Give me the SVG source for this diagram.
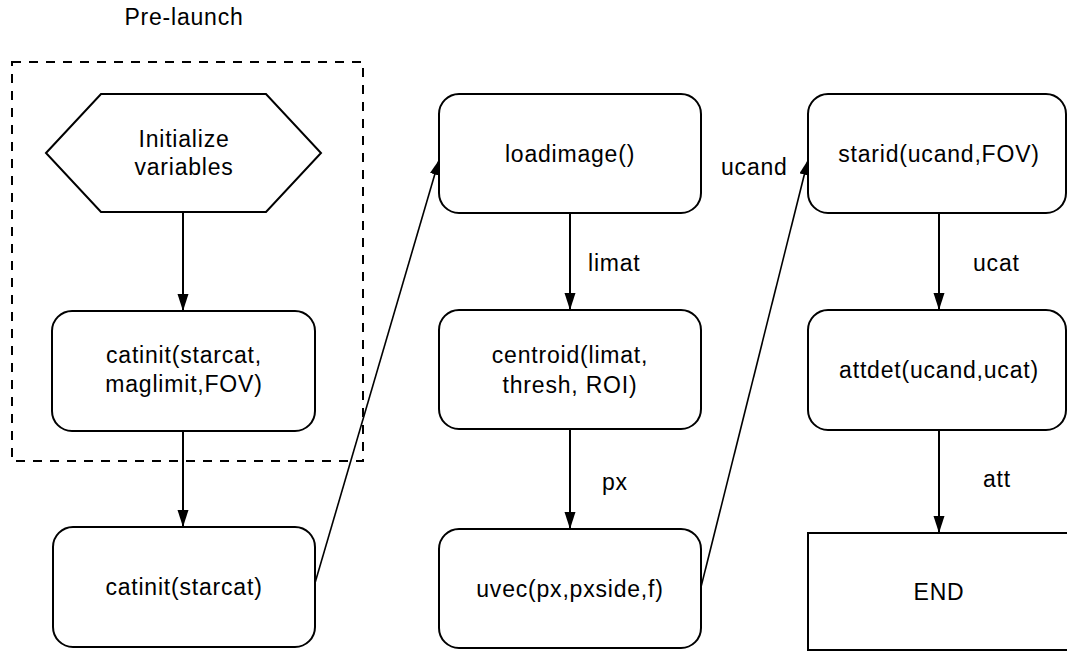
<svg xmlns="http://www.w3.org/2000/svg" width="1067" height="651" viewBox="0 0 1067 651">
<style>
text{font-family:"Liberation Sans",Arial,sans-serif;font-size:23px;letter-spacing:0.8px;fill:#000}
.c{text-anchor:middle}
.box{fill:#fff;stroke:#000;stroke-width:2}
.edge{fill:none;stroke:#000;stroke-width:2}
.diag{fill:none;stroke:#000;stroke-width:1.6}
.dash{fill:none;stroke:#000;stroke-width:2;stroke-dasharray:9 8}
</style>
<defs>
<marker id="ah" markerUnits="userSpaceOnUse" markerWidth="18" markerHeight="12" refX="17" refY="5.5" orient="auto">
<path d="M0,0 L17,5.5 L0,11 z" fill="#000"/>
</marker>
<marker id="ahs" markerUnits="userSpaceOnUse" markerWidth="16" markerHeight="11" refX="15" refY="5" orient="auto">
<path d="M0,0 L15,5 L0,10 z" fill="#000"/>
</marker>
</defs>
<rect width="1067" height="651" fill="#fff"/>
<g id="prelaunch">
<rect class="dash" x="12" y="62" width="351" height="399"/>
<text class="c" x="184" y="25">Pre-launch</text>
</g>
<g id="connectors">
<line class="edge" x1="183" y1="212" x2="183" y2="311" marker-end="url(#ah)"/>
<line class="edge" x1="183" y1="431" x2="183" y2="527" marker-end="url(#ah)"/>
<line class="diag" x1="315" y1="583" x2="439" y2="160" marker-end="url(#ahs)"/>
<line class="edge" x1="570" y1="213" x2="570" y2="310" marker-end="url(#ah)"/>
<text x="588" y="271">limat</text>
<line class="edge" x1="570" y1="429" x2="570" y2="529" marker-end="url(#ah)"/>
<text x="602" y="490">px</text>
<line class="diag" x1="701" y1="587" x2="808" y2="160" marker-end="url(#ahs)"/>
<text x="721" y="175">ucand</text>
<line class="edge" x1="939" y1="213" x2="939" y2="310" marker-end="url(#ah)"/>
<text x="973" y="271">ucat</text>
<line class="edge" x1="939" y1="430" x2="939" y2="533" marker-end="url(#ah)"/>
<text x="983" y="487">att</text>
</g>
<g id="init">
<polygon class="box" points="46,153 101,94 266,94 321,153 266,212 101,212"/>
<text class="c" x="184" y="147">Initialize</text>
<text class="c" x="184" y="175">variables</text>
</g>
<g id="catinit1">
<rect class="box" x="52" y="311" width="263" height="120" rx="20"/>
<text class="c" x="184" y="363">catinit(starcat,</text>
<text class="c" x="184" y="392">maglimit,FOV)</text>
</g>
<g id="catinit2">
<rect class="box" x="53" y="527" width="262" height="120" rx="20"/>
<text class="c" x="184" y="595">catinit(starcat)</text>
</g>
<g id="loadimage">
<rect class="box" x="439" y="94" width="262" height="119" rx="20"/>
<text class="c" x="570" y="162">loadimage()</text>
</g>
<g id="centroid">
<rect class="box" x="439" y="310" width="262" height="119" rx="20"/>
<text class="c" x="570" y="363">centroid(limat,</text>
<text class="c" x="570" y="393">thresh, ROI)</text>
</g>
<g id="uvec">
<rect class="box" x="439" y="529" width="262" height="119" rx="20"/>
<text class="c" x="570" y="597">uvec(px,pxside,f)</text>
</g>
<g id="starid">
<rect class="box" x="808" y="94" width="258" height="119" rx="20"/>
<text class="c" x="939" y="162">starid(ucand,FOV)</text>
</g>
<g id="attdet">
<rect class="box" x="808" y="310" width="258" height="120" rx="20"/>
<text class="c" x="939" y="378">attdet(ucand,ucat)</text>
</g>
<g id="end">
<rect class="box" x="808" y="533" width="265" height="117"/>
<text class="c" x="939" y="600">END</text>
</g>
</svg>
